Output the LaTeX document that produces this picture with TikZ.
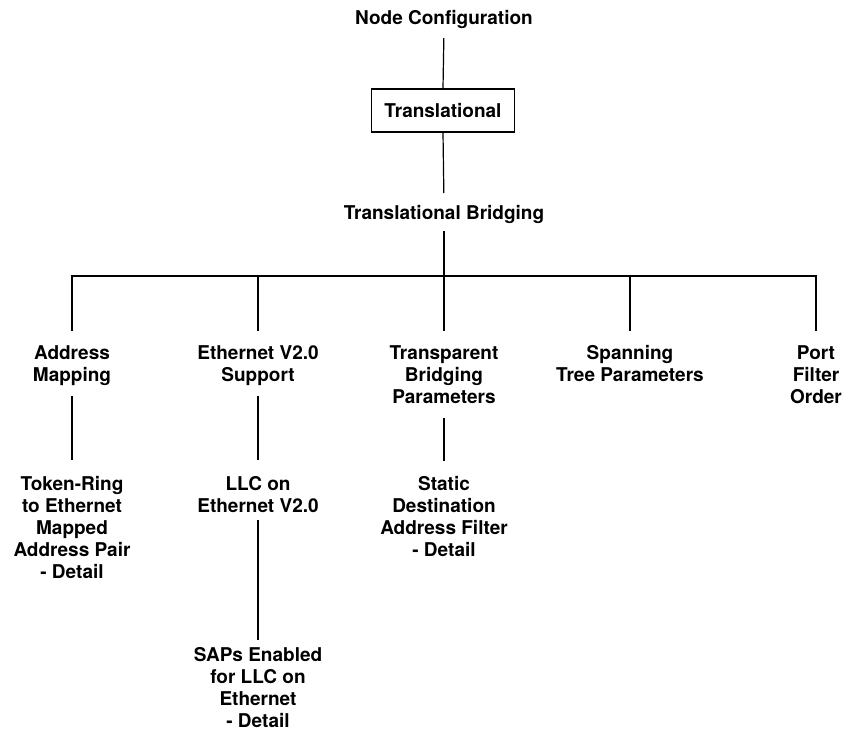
\documentclass[tikz,border=0pt]{standalone}
\usepackage{fontspec}
\setmainfont{TeX Gyre Heros}
\begin{document}
\begin{tikzpicture}[x=1pt,y=-1pt,
  lbl/.style={font=\bfseries\fontsize{19}{22}\selectfont, align=center,
              inner sep=0pt, anchor=north},
  boxnode/.style={font=\bfseries\fontsize{19}{22}\selectfont, draw,
              line width=1.6pt, minimum width=143pt, minimum height=43pt,
              inner sep=0pt},
  link/.style={line width=1.2pt},
  ]
\useasboundingbox (0,0) rectangle (845,731);

% top of the tree
\node[lbl] (nc) at (444,10) {Node Configuration};
\node[boxnode] (tr) at (443,110.5) {Translational};
\node[lbl] (tb) at (444,205) {Translational Bridging};
\coordinate (bar) at (444,276);

% first level
\node[lbl] (am) at (72,345) {Address\\Mapping};
\node[lbl] (es) at (258,345) {Ethernet V2.0\\Support};
\node[lbl] (tp) at (444,345) {Transparent\\Bridging\\Parameters};
\node[lbl] (st) at (630,345) {Spanning\\Tree Parameters};
\node[lbl] (pf) at (816,345) {Port\\Filter\\Order};

% second and third level
\node[lbl] (tre) at (72,476) {Token-Ring\\to Ethernet\\Mapped\\Address Pair\\- Detail};
\node[lbl] (llc) at (258,476) {LLC on\\Ethernet V2.0};
\node[lbl] (sd) at (444,476) {Static\\Destination\\Address Filter\\- Detail};
\node[lbl] (saps) at (258,647.5) {SAPs Enabled\\for LLC on\\Ethernet\\- Detail};

% connectors
\draw[link, shorten <=9.5pt] (nc.south) -- (tr.north);
\draw[link, shorten >=12pt] (tr.south) -- (tb.north);
\draw[link, shorten <=7.5pt] (tb.south) -- (bar);
\foreach \c in {am,es,tp,st,pf}
  \draw[link, shorten >=14pt] (bar) -| (\c.north);
\draw[link, shorten <=10.5pt, shorten >=16pt] (am.south) -- (tre.north);
\draw[link, shorten <=10.5pt, shorten >=16pt] (es.south) -- (llc.north);
\draw[link, shorten <=14.5pt, shorten >=15pt] (tp.south) -- (sd.north);
\draw[link, shorten <=7.5pt, shorten >=7.5pt] (llc.south) -- (saps.north);
\end{tikzpicture}
\end{document}
